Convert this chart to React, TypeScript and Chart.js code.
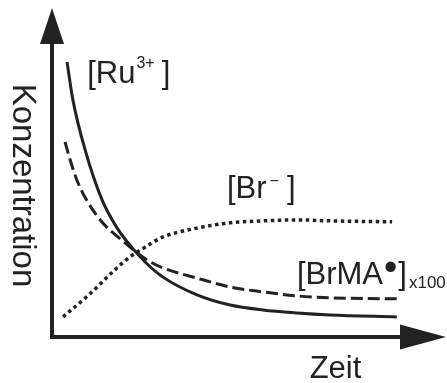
import { useEffect, useRef } from "react";
import { Chart, registerables } from "chart.js";

Chart.register(...registerables);

// [Ru3+] (solid)
const RU_T = [3.8, 5.3, 8.4, 12.7, 16.5, 20.3, 24.1, 28.1, 36.7, 45.1, 53.4, 62.0, 70.4, 87.3];
const RU_C = [83.6, 72.0, 56.8, 41.6, 33.1, 27.1, 22.2, 18.2, 12.8, 9.7, 8.2, 7.3, 6.7, 6.1];

// [BrMA•] x100 (dashed)
const BRMA_T = [3.3, 4.6, 6.6, 11.6, 18.5, 24.1, 28.1, 36.7, 45.1, 53.4, 62.0, 70.4, 87.3];
const BRMA_C = [59.3, 53.8, 46.8, 36.5, 28.6, 23.4, 21.0, 17.9, 15.2, 13.7, 12.5, 11.9, 11.6];

// [Br-] (dotted)
const BR_T = [2.8, 9.6, 15.9, 19.7, 24.1, 28.1, 36.7, 45.1, 53.4, 62.0, 70.4, 86.1];
const BR_C = [6.1, 13.1, 20.4, 24.3, 27.7, 30.4, 33.1, 34.7, 35.3, 35.6, 35.3, 35.0];

const AXIS_Y_TITLE = "Konzentration";
const AXIS_X_TITLE = "Zeit";

const INK = "#222222";
const FONT = '"Liberation Sans", Arial, sans-serif';

const toPts = (xs: number[], ys: number[]) => xs.map((x, i) => ({ x, y: ys[i] }));

const decor = {
  id: "decor",
  afterDraw(chart: any) {
    const ctx: CanvasRenderingContext2D = chart.ctx;
    const a = chart.chartArea;
    const sx = chart.scales.x;
    const sy = chart.scales.y;
    ctx.save();
    ctx.fillStyle = INK;
    ctx.strokeStyle = INK;
    ctx.lineWidth = 4;
    ctx.lineCap = "butt";
    // y axis
    ctx.beginPath();
    ctx.moveTo(a.left, a.bottom + 2);
    ctx.lineTo(a.left, a.top + 34);
    ctx.stroke();
    ctx.beginPath();
    ctx.moveTo(a.left, a.top);
    ctx.lineTo(a.left - 12, a.top + 36);
    ctx.lineTo(a.left + 12, a.top + 36);
    ctx.closePath();
    ctx.fill();
    // x axis
    ctx.beginPath();
    ctx.moveTo(a.left - 2, a.bottom);
    ctx.lineTo(a.right - 45, a.bottom);
    ctx.stroke();
    ctx.beginPath();
    ctx.moveTo(a.right - 1, a.bottom);
    ctx.lineTo(a.right - 47, a.bottom - 12.5);
    ctx.lineTo(a.right - 47, a.bottom + 12.5);
    ctx.closePath();
    ctx.fill();

    ctx.textBaseline = "alphabetic";
    ctx.textAlign = "left";

    // Axis titles
    ctx.font = `33px ${FONT}`;
    ctx.save();
    ctx.translate(13, (a.top + a.bottom) / 2 + 13);
    ctx.rotate(Math.PI / 2);
    ctx.textAlign = "center";
    ctx.fillText(AXIS_Y_TITLE, 0, 0);
    ctx.restore();
    ctx.font = `31px ${FONT}`;
    ctx.textAlign = "center";
    ctx.fillText(AXIS_X_TITLE, (a.left + a.right) / 2 + 86, a.bottom + 41);
    ctx.textAlign = "left";

    // [Ru3+]
    let x = sx.getPixelForValue(8.9);
    let b = sy.getPixelForValue(77.2);
    ctx.font = `31px ${FONT}`;
    ctx.fillText("[Ru", x, b);
    x += ctx.measureText("[Ru").width + 1;
    ctx.font = `16px ${FONT}`;
    ctx.fillText("3+", x, b - 15);
    x += ctx.measureText("3+").width + 7;
    ctx.font = `31px ${FONT}`;
    ctx.fillText("]", x, b);

    // [Br-]
    x = sx.getPixelForValue(44.3);
    b = sy.getPixelForValue(42.2);
    ctx.fillText("[Br", x, b);
    x += ctx.measureText("[Br").width + 3;
    ctx.font = `16px ${FONT}`;
    ctx.fillText("\u2212", x, b - 12);
    x += ctx.measureText("\u2212").width + 8;
    ctx.font = `31px ${FONT}`;
    ctx.fillText("]", x, b);

    // [BrMA•]x100
    x = sx.getPixelForValue(62.0);
    b = sy.getPixelForValue(16.1);
    ctx.fillText("[BrMA", x, b);
    x += ctx.measureText("[BrMA").width + 1;
    ctx.font = `38px ${FONT}`;
    ctx.fillText("\u2022", x, b - 4);
    x += ctx.measureText("\u2022").width + 1;
    ctx.font = `31px ${FONT}`;
    ctx.fillText("]", x, b);
    x += ctx.measureText("]").width + 2;
    ctx.font = `17px ${FONT}`;
    ctx.fillText("x100", x, b + 4);

    ctx.restore();
  },
};

export default function App() {
  const ref = useRef<HTMLCanvasElement>(null);
  useEffect(() => {
    const chart = new Chart(ref.current as HTMLCanvasElement, {
      type: "line",
      data: {
        datasets: [
          {
            label: "[Ru3+]",
            data: toPts(RU_T, RU_C),
            borderColor: INK,
            borderWidth: 3,
            cubicInterpolationMode: "monotone",
            pointRadius: 0,
            fill: false,
          },
          {
            label: "[BrMA•]x100",
            data: toPts(BRMA_T, BRMA_C),
            borderColor: INK,
            borderWidth: 3,
            borderDash: [12, 5],
            cubicInterpolationMode: "monotone",
            pointRadius: 0,
            fill: false,
          },
          {
            label: "[Br-]",
            data: toPts(BR_T, BR_C),
            borderColor: INK,
            borderWidth: 3.5,
            borderDash: [3.5, 3.5],
            borderCapStyle: "butt",
            cubicInterpolationMode: "monotone",
            pointRadius: 0,
            fill: false,
          },
        ],
      },
      options: {
        responsive: false,
        animation: false,
        events: [],
        layout: { padding: { left: 52, right: 0, top: 8, bottom: 46 } },
        plugins: { legend: { display: false }, tooltip: { enabled: false } },
        scales: {
          x: { type: "linear", min: 0, max: 100, display: false },
          y: { type: "linear", min: 0, max: 100, display: false },
        },
      },
      plugins: [decor],
    } as any);
    return () => chart.destroy();
  }, []);
  return (
    <div style={{ position: "fixed", left: 0, top: 0, width: 447, height: 383, background: "#fff" }}>
      <canvas ref={ref} width={447} height={383} style={{ display: "block", width: 447, height: 383 }} />
    </div>
  );
}
